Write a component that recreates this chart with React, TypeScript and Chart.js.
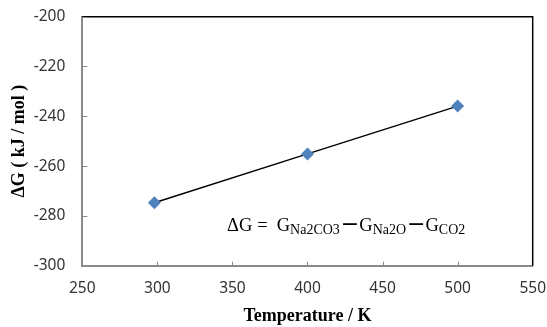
import React, { useEffect, useRef } from "react";
import { Chart, registerables } from "chart.js";

Chart.register(...registerables);

const temperatures = [298, 400, 500];
const deltaG = [-274.7, -255.1, -235.9];
const xMin = 250;
const xMax = 550;
const xStep = 50;
const yMin = -300;
const yMax = -200;
const yStep = 20;
const xTitle = "Temperature / K";
const yTitle = "ΔG ( kJ / mol )";
// equation pieces: [text, isSubscript]
const equationParts: [string, boolean][] = [
  ["ΔG = G", false],
  ["Na2CO3", true],
  ["−", false],
  ["G", false],
  ["Na2O", true],
  ["−", false],
  ["G", false],
  ["CO2", true],
];
const equationAnchor = { x: 346.4, y: -285.9 };

const framePlugin = {
  id: "frame",
  afterDraw(chart: any) {
    const { ctx, chartArea, scales } = chart;
    const xs = scales.x;
    const ys = scales.y;
    ctx.save();
    // top and right border
    ctx.strokeStyle = "#000";
    ctx.lineWidth = 1.5;
    ctx.beginPath();
    ctx.moveTo(chartArea.left, chartArea.top);
    ctx.lineTo(chartArea.right, chartArea.top);
    ctx.lineTo(chartArea.right, chartArea.bottom);
    ctx.stroke();
    // inward tick marks
    ctx.strokeStyle = "#8a8a8a";
    ctx.lineWidth = 1;
    ctx.beginPath();
    xs.ticks.forEach((t: any) => {
      const px = Math.round(xs.getPixelForValue(t.value)) + 0.5;
      ctx.moveTo(px, chartArea.bottom);
      ctx.lineTo(px, chartArea.bottom - 4);
    });
    ys.ticks.forEach((t: any) => {
      const py = Math.round(ys.getPixelForValue(t.value)) + 0.5;
      ctx.moveTo(chartArea.left, py);
      ctx.lineTo(chartArea.left + 5, py);
    });
    ctx.stroke();
    // equation text
    let px = xs.getPixelForValue(equationAnchor.x);
    const py = ys.getPixelForValue(equationAnchor.y);
    ctx.fillStyle = "#000";
    ctx.textBaseline = "alphabetic";
    ctx.textAlign = "left";
    equationParts.forEach(([text, sub], i) => {
      if (sub) {
        ctx.font = "14px 'Liberation Serif', 'Times New Roman', serif";
        ctx.fillText(text, px, py + 3.3);
        px += ctx.measureText(text).width + 1;
      } else {
        ctx.font = "18.5px 'Liberation Serif', 'Times New Roman', serif";
        if (i === 0) {
          ctx.fillText("ΔG", px, py);
          px += ctx.measureText("ΔG").width + 5;
          ctx.fillText("=", px, py);
          px += ctx.measureText("=").width + 9;
          ctx.fillText("G", px, py);
          px += ctx.measureText("G").width;
        } else if (text === "−") {
          ctx.font = "22px 'DejaVu Sans', sans-serif";
          ctx.fillText(text, px, py + 0.5);
          px += ctx.measureText(text).width;
        } else {
          ctx.fillText(text, px, py);
          px += ctx.measureText(text).width;
        }
      }
    });
    ctx.restore();
  },
};

function zeroPad(scale: any) {
  scale.paddingTop = 0;
  scale.paddingBottom = 0;
  scale.paddingLeft = 0;
  scale.paddingRight = 0;
}

export default function App() {
  const canvasRef = useRef<HTMLCanvasElement | null>(null);

  useEffect(() => {
    if (!canvasRef.current) return;
    const data = temperatures.map((t, i) => ({ x: t, y: deltaG[i] }));
    const chart = new Chart(canvasRef.current, {
      type: "scatter",
      data: {
        datasets: [
          {
            data,
            showLine: true,
            borderColor: "#000",
            borderWidth: 1.5,
            pointStyle: "rectRot",
            pointRadius: 6.5,
            pointBackgroundColor: "#4F81BD",
            pointBorderColor: "#4F81BD",
            pointBorderWidth: 0,
          },
        ],
      },
      options: {
        animation: false,
        responsive: true,
        maintainAspectRatio: false,
        layout: { padding: { left: 0, right: 14.3, top: 16.7, bottom: 0 } },
        plugins: { legend: { display: false }, tooltip: { enabled: false } },
        scales: {
          x: {
            type: "linear",
            min: xMin,
            max: xMax,
            ticks: {
              stepSize: xStep,
              color: "#333",
              font: { family: "'Noto Sans', sans-serif", size: 15.5 },
              padding: 14,
            },
            grid: { display: false, drawTicks: false },
            border: { display: true, color: "#8a8a8a", width: 2 },
            title: {
              display: true,
              text: xTitle,
              color: "#000",
              font: { family: "'Liberation Serif', 'Times New Roman', serif", size: 18, weight: "bold" },
              padding: { top: 0, bottom: 0 },
            },
            afterFit(scale: any) {
              scale.height = 61.3;
              zeroPad(scale);
            },
          },
          y: {
            type: "linear",
            min: yMin,
            max: yMax,
            ticks: {
              stepSize: yStep,
              color: "#333",
              font: { family: "'Noto Sans', sans-serif", size: 15.5 },
              padding: 17,
            },
            grid: { display: false, drawTicks: false },
            border: { display: true, color: "#8a8a8a", width: 2 },
            title: {
              display: true,
              text: yTitle,
              color: "#000",
              font: { family: "'Liberation Serif', 'Times New Roman', serif", size: 18, weight: "bold" },
              padding: { top: 9, bottom: 0 },
            },
            afterFit(scale: any) {
              scale.width = 82.3;
              zeroPad(scale);
            },
          },
        },
      },
      plugins: [framePlugin],
    } as any);
    return () => chart.destroy();
  }, []);

  return (
    <div style={{ position: "fixed", left: 0, top: 0, width: 547, height: 327, background: "#fff" }}>
      <canvas ref={canvasRef} />
    </div>
  );
}
